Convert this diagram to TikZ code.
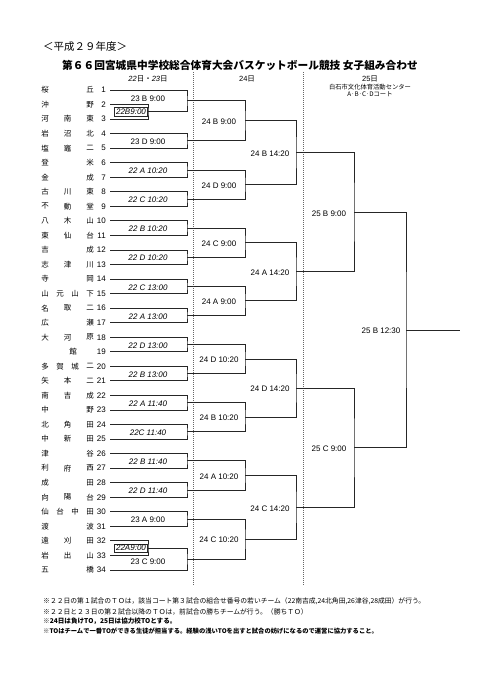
\documentclass[tikz,border=0pt]{standalone}
\usepackage{fontspec}
\setmainfont{Liberation Sans}
\newfontfamily\jp{Noto Sans CJK JP}
\newfontfamily\ar{Liberation Sans}
\begin{document}
\begin{tikzpicture}[x=1pt,y=-1pt,
  br/.style={draw=black!85,line width=0.95pt},
  dv/.style={draw=black!60,line width=0.5pt,dash pattern=on 1pt off 1pt},
  ml/.style={font=\ar\fontsize{8}{8}\selectfont,inner sep=0pt},
  mli/.style={font=\ar\itshape\fontsize{8}{8}\selectfont,inner sep=0pt},
  tn/.style={font=\jp\fontsize{7.5}{7.5}\selectfont,inner sep=0pt},
  num/.style={font=\ar\fontsize{8}{8}\selectfont,inner sep=0pt,anchor=east},
  hd/.style={font=\fontsize{7.5}{7.5}\selectfont,inner sep=0pt},
  note/.style={font=\jp\fontsize{6.8}{6.8}\selectfont,inner sep=0pt,anchor=west},
]
\useasboundingbox (0,0) rectangle (481,680);
% titles
\node[font=\jp\fontsize{10.5}{10.5}\selectfont,inner sep=0pt,anchor=west] (ttl1) at (43,46.5) {＜平成２９年度＞};
\node[font=\jp\bfseries\fontsize{10.7}{10.7}\selectfont,inner sep=0pt] (ttl2) at (240,65) {第６６回宮城県中学校総合体育大会バスケットボール競技 女子組み合わせ};
% headers
\node[hd] (h1) at (148,79) {\itshape 22{\jp\upshape 日・}23{\jp\upshape 日}};
\node[hd] (h2) at (247,79) {24{\jp 日}};
\node[hd] (h3) at (370,79) {25{\jp 日}};
\node[font=\jp\fontsize{6.3}{6.3}\selectfont,inner sep=0pt] (h4) at (370,87) {白石市文化体育活動センター};
\node[font=\jp\fontsize{6.3}{6.3}\selectfont,inner sep=0pt] (h5) at (370,94.5) {A·B·C·Dコート};
% dotted separators
\coordinate (v1a) at (193,72); \coordinate (v1b) at (193,585);
\coordinate (v2a) at (303,72); \coordinate (v2b) at (303,585);
\draw[dv] (v1a) -- (v1b);
\draw[dv] (v2a) -- (v2b);
% teams
\foreach \i in {1,...,34}{
  \coordinate (t\i) at (110,{90+(\i-1)*14.545});
  \node[num] (k\i) at (106,{90+(\i-1)*14.545}) {\i};
}
\foreach \i/\a/\b in {1/桜/丘,2/沖/野,6/登/米,7/金/成,12/吉/成,14/寺/岡,17/広/瀬,23/中/野,26/津/谷,28/成/田,31/渡/波,34/五/橋}{
  \node[tn] (na\i) at (45,{90+(\i-1)*14.545}) {\a};
  \node[tn] (nc\i) at (90,{90+(\i-1)*14.545}) {\b};
}
\foreach \i/\a/\b/\c in {3/河/南/東,4/岩/沼/北,5/塩/竈/二,8/古/川/東,9/不/動/堂,10/八/木/山,11/東/仙/台,13/志/津/川,16/名/取/二,18/大/河/原,21/矢/本/二,22/南/吉/成,24/北/角/田,25/中/新/田,27/利/府/西,29/向/陽/台,32/遠/刈/田,33/岩/出/山}{
  \node[tn] (na\i) at (45,{90+(\i-1)*14.545}) {\a};
  \node[tn] (nb\i) at (67.5,{90+(\i-1)*14.545}) {\b};
  \node[tn] (nc\i) at (90,{90+(\i-1)*14.545}) {\c};
}
\foreach \i/\a/\b/\c/\d in {15/山/元/山/下,20/多/賀/城/二,30/仙/台/中/田}{
  \node[tn] (na\i) at (45,{90+(\i-1)*14.545}) {\a};
  \node[tn] (nb\i) at (60,{90+(\i-1)*14.545}) {\b};
  \node[tn] (nd\i) at (75,{90+(\i-1)*14.545}) {\c};
  \node[tn] (nc\i) at (90,{90+(\i-1)*14.545}) {\d};
}
\node[tn] (nb19) at (73,351.82) {館};
% match points
\coordinate (s1) at (148,111.82);
\coordinate (s2) at (148,548.18);
\foreach \n/\y in {1/100.91,2/140.91,3/170,4/199.09,5/228.18,6/257.27,7/286.36,8/315.45,9/344.55,10/373.64,11/402.73,12/431.82,13/460.91,14/490,15/519.09,16/559.09}{
  \coordinate (a\n) at (187,\y);
}
\foreach \n/\y in {1/120.91,2/184.55,3/242.73,4/300.91,5/359.09,6/417.27,7/475.45,8/539.09}{
  \coordinate (b\n) at (245,\y);
}
\foreach \n/\y in {1/152.73,2/271.82,3/388.18,4/507.27}{
  \coordinate (c\n) at (296,\y);
}
\coordinate (d1) at (354,212.27);
\coordinate (d2) at (354,447.73);
\coordinate (e1) at (406,330);
\coordinate (fin) at (460,330);
% round 1
\draw[br] (t2) -| (s1) |- (t3);
\draw[br] (t32) -| (s2) |- (t33);
\draw[br] (t1) -| (a1) |- (s1);
\foreach \n/\p/\q in {2/4/5,3/6/7,4/8/9,5/10/11,6/12/13,7/14/15,8/16/17,9/18/19,10/20/21,11/22/23,12/24/25,13/26/27,14/28/29,15/30/31}{
  \draw[br] (t\p) -| (a\n) |- (t\q);
}
\draw[br] (s2) -| (a16) |- (t34);
% round 2
\foreach \n/\p/\q in {1/1/2,2/3/4,3/5/6,4/7/8,5/9/10,6/11/12,7/13/14,8/15/16}{
  \draw[br] (a\p) -| (b\n) |- (a\q);
}
% round 3
\foreach \n/\p/\q in {1/1/2,2/3/4,3/5/6,4/7/8}{
  \draw[br] (b\p) -| (c\n) |- (b\q);
}
\draw[br] (c1) -| (d1) |- (c2);
\draw[br] (c3) -| (d2) |- (c4);
\draw[br] (d1) -| (e1) |- (d2);
\draw[br] (e1) -- (fin);
% labels round 1
\node[ml] (L1) at (148,99) {23 B 9:00};
\node[mli,draw=black!85,line width=0.6pt,inner xsep=1.5pt,inner ysep=1.5pt] (Ls1) at (131,112) {22B9:00};
\node[ml] (L2) at (148,142) {23 D 9:00};
\node[mli] (L3) at (148,171) {22 A 10:20};
\node[mli] (L4) at (148,200) {22 C 10:20};
\node[mli] (L5) at (148,229) {22 B 10:20};
\node[mli] (L6) at (148,258) {22 D 10:20};
\node[mli] (L7) at (148,287.4) {22 C 13:00};
\node[mli] (L8) at (148,316.5) {22 A 13:00};
\node[mli] (L9) at (148,345.5) {22 D 13:00};
\node[mli] (L10) at (148,374.6) {22 B 13:00};
\node[mli] (L11) at (148,403.7) {22 A 11:40};
\node[mli] (L12) at (148,432.8) {22C 11:40};
\node[mli] (L13) at (148,461.9) {22 B 11:40};
\node[mli] (L14) at (148,491) {22 D 11:40};
\node[ml] (L15) at (148,520) {23 A 9:00};
\node[mli,draw=black!85,line width=0.6pt,inner xsep=1.5pt,inner ysep=1.5pt] (Ls2) at (131,548.2) {22A9:00};
\node[ml] (L16) at (148,562) {23 C 9:00};
% labels round 2
\node[ml] (M1) at (219,122) {24 B 9:00};
\node[ml] (M2) at (219,185.5) {24 D 9:00};
\node[ml] (M3) at (219,243.7) {24 C 9:00};
\node[ml] (M4) at (219,301.9) {24 A 9:00};
\node[ml] (M5) at (219,360) {24 D 10:20};
\node[ml] (M6) at (219,418.2) {24 B 10:20};
\node[ml] (M7) at (219,476.4) {24 A 10:20};
\node[ml] (M8) at (219,540) {24 C 10:20};
% labels round 3
\node[ml] (N1) at (270,153.7) {24 B 14:20};
\node[ml] (N2) at (270,272.8) {24 A 14:20};
\node[ml] (N3) at (270,389.2) {24 D 14:20};
\node[ml] (N4) at (270,508.3) {24 C 14:20};
% labels round 4/5
\node[ml] (P1) at (329,213.3) {25 B 9:00};
\node[ml] (P2) at (329,448.7) {25 C 9:00};
\node[ml] (Q1) at (381,331) {25 B 12:30};
% notes
\node[note] (nt1) at (43,601) {※２２日の第１試合のＴＯは，該当コート第３試合の組合せ番号の若いチーム（22南吉成,24北角田,26津谷,28成田）が行う。};
\node[note] (nt2) at (43,611.5) {※２２日と２３日の第２試合以降のＴＯは，前試合の勝ちチームが行う。（勝ちＴＯ）};
\node[note,font=\jp\bfseries\fontsize{6.6}{6.6}\selectfont] (nt3) at (43,621.5) {※24日は負けTO，25日は協力校TOとする。};
\node[note,font=\jp\bfseries\fontsize{6.3}{6.3}\selectfont] (nt4) at (43,631.5) {※TOはチームで一番TOができる生徒が担当する。経験の浅いTOを出すと試合の妨げになるので運営に協力すること。};
\end{tikzpicture}
\end{document}
